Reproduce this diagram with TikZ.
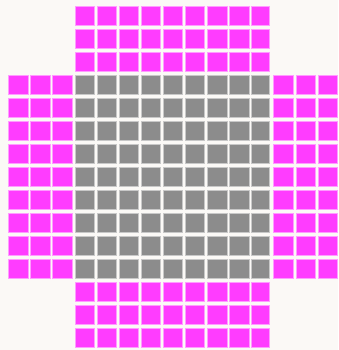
\documentclass[tikz,border=0pt]{standalone}
\definecolor{bgc}{HTML}{FBF9F6}
\definecolor{mag}{HTML}{FF3CFF}
\definecolor{magedge}{HTML}{FF9CFF}
\definecolor{grc}{HTML}{8C8C8C}
\definecolor{gredge}{HTML}{C8C8C8}
\begin{document}
\begin{tikzpicture}[x=1pt,y=-1pt,
  magcell/.style={fill=mag,draw=magedge,line width=0.7pt},
  graycell/.style={fill=grc,draw=gredge,line width=0.7pt}]
\fill[bgc] (0,0) rectangle (338,350);
\useasboundingbox (0,0) rectangle (338,350);
% columns: 0..14, pitch 22.1, start 8.6 ; rows 0..14, pitch 23, start 6
\foreach \c in {0,...,14}{
  \foreach \r in {0,...,14}{
    \pgfmathsetmacro{\xl}{8.6+22.1*\c}
    \pgfmathsetmacro{\yt}{6+23*\r}
    \pgfmathsetmacro{\w}{ifthenelse(\c==11,17.8,19.4)}
    \pgfmathtruncatemacro{\incol}{and(\c>2,\c<12)}
    \pgfmathtruncatemacro{\inrow}{and(\r>2,\r<12)}
    \ifnum\incol=1
      \ifnum\inrow=1
        \draw[graycell] (\xl,\yt) rectangle ++(\w,19.8);
      \else
        \draw[magcell] (\xl,\yt) rectangle ++(\w,19.8);
      \fi
    \else
      \ifnum\inrow=1
        \draw[magcell] (\xl,\yt) rectangle ++(\w,19.8);
      \fi
    \fi
  }
}
\end{tikzpicture}
\end{document}
